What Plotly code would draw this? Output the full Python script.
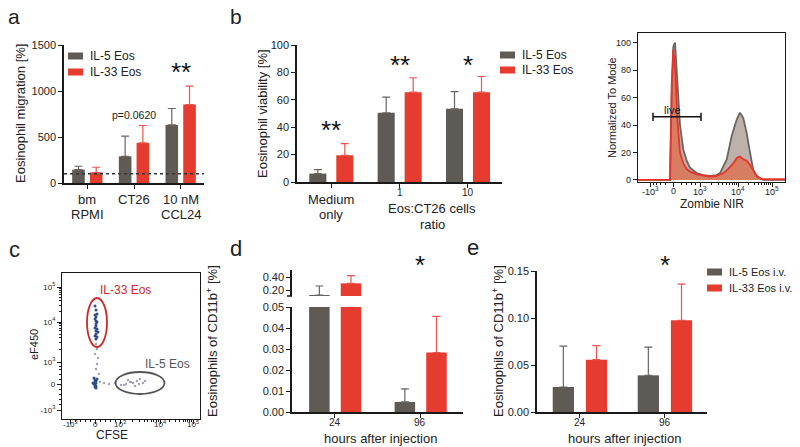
import numpy as np
import plotly.graph_objects as go

W, H = 800, 447
# the page body adds a default 8px margin around the figure; positions below are
# given in screenshot pixels and converted to paper fractions
OFF_X, OFF_Y = 8, 8
def X(p): return (p - OFF_X) / W
def Y(p): return 1 - (p - OFF_Y) / H

GREY = "#5e5a56"
RED = "#e63b2f"
GREY_ERR = "#6a6662"
RED_ERR = "#e8564c"
FONT = "Liberation Sans, Arial, sans-serif"

# ---------------- data ----------------
# panel a
a_cats = ["bm RPMI", "CT26", "10 nM CCL24"]
a_labels = [("bm", "RPMI"), ("CT26", ""), ("10 nM", "CCL24")]
a_il5 = [145, 290, 632]
a_il5_err = [37, 220, 178]
a_il33 = [113, 436, 853]
a_il33_err = [58, 189, 200]
a_baseline = 100

# panel b (viability)
b_cats = ["Medium only", "1", "10"]
b_il5 = [6.1, 50.5, 53.4]
b_il5_err = [3.0, 11.5, 12.6]
b_il33 = [19.5, 65.6, 65.6]
b_il33_err = [8.5, 10.5, 11.4]

# panel b histogram (display units of biexponential axis, % of mode)
hist_grey_x = [-35, -3, -1.3, 0.3, 2, 4.3, 7, 10.3, 13.7, 17, 23.7, 30.3, 37, 43.7, 47,
               53.7, 58.7, 63.7, 67, 70.3, 73.7, 77, 80.3, 83.7, 90.3, 112]
hist_grey_y = [0, 0, 60, 97, 100, 70, 40, 22, 14, 9, 5, 3.5, 3, 3.5, 5,
               15, 32, 44, 49, 45, 34, 20, 7, 2.5, 0, 0]
hist_red_x = [-35, -3, -1.3, 0.3, 2.3, 4.3, 7, 10.3, 13.7, 17, 23.7, 30.3, 37, 43.7,
              50.3, 55.3, 60.3, 63.7, 67, 70.3, 73.7, 77, 80.3, 83.7, 88.7, 112]
hist_red_y = [0, 0, 70, 95, 80, 45, 20, 12, 8, 6, 4, 3, 2.5, 3,
              5, 8, 12, 16, 17, 15, 14, 11, 7, 3, 0.5, 0.5]
hist_tickvals = [-23, 0, 27, 65, 99]
bi_ticktext = ["-10<sup>3</sup>", "0", "10<sup>3</sup>", "10<sup>4</sup>", "10<sup>5</sup>"]

# panel c (flow dot plot, display units)
c_xtickvals = [-25, 0, 25, 65, 98]
c_ytickvals = [-26, 0, 22, 62, 97]
c_blue_x = [0, 1, 2, 1, 0, 2, 1, 1, 0, 2, 1, 3, 1, 0, 2, 1, 1, 0,
            -1, 0, 1, 0, 1, -1, 0, 1, 0, 2, -2, 1]
c_blue_y = [78, 74, 70, 67, 65, 62, 60, 58, 56, 55, 53, 52, 50, 48, 47, 45, 63, 69,
            6, 4, 3, 2, 1, 0, -1, -2, -3, 5, 1, -4]
c_grey_x = [1, 2, 0, 3, 2, 1, 4, 5, 9, 14, 20, 26, 31, 35, 38, 42, 45, 48, 40, 44, 36, 50, 29, 33]
c_grey_y = [40, 35, 30, 26, 20, 15, 10, 2, 1, 0, 1, -1, 0, 2, 1, 3, 5, 1, -2, 0, 2, 3, -1, 4]

# panel d
d_cats = ["24", "96"]
d_il5 = [0.123, 0.0048]
d_il5_err = [0.139, 0.0062]
d_il33 = [0.303, 0.0283]
d_il33_err = [0.117, 0.0172]

# panel e
e_cats = ["24", "96"]
e_il5 = [0.0266, 0.039]
e_il5_err = [0.0434, 0.030]
e_il33 = [0.0557, 0.0975]
e_il33_err = [0.0149, 0.0385]

# ---------------- figure ----------------
fig = go.Figure()

def bar(xa, ya, cats, vals, errs, color, ecolor, name, width, offset):
    return go.Bar(
        x=cats, y=vals, xaxis=xa, yaxis=ya, name=name,
        marker=dict(color=color, line=dict(width=0)),
        width=width, offset=offset,
        error_y=dict(type="data", array=errs, arrayminus=[0] * len(errs), symmetric=False,
                     color=ecolor, thickness=1.2, width=4),
        showlegend=False,
    )

# a
fig.add_trace(bar("x", "y", a_cats, a_il5, a_il5_err, GREY, GREY_ERR, "IL-5 Eos", 0.27, -0.325))
fig.add_trace(bar("x", "y", a_cats, a_il33, a_il33_err, RED, RED_ERR, "IL-33 Eos", 0.27, 0.055))
# b
fig.add_trace(bar("x2", "y2", b_cats, b_il5, b_il5_err, GREY, GREY_ERR, "IL-5 Eos", 0.25, -0.32))
fig.add_trace(bar("x2", "y2", b_cats, b_il33, b_il33_err, RED, RED_ERR, "IL-33 Eos", 0.25, 0.075))
# histogram
fig.add_trace(go.Scatter(x=hist_grey_x, y=hist_grey_y, xaxis="x3", yaxis="y3", mode="lines",
                         line=dict(color="#6b6560", width=1.8), fill="tozeroy",
                         fillcolor="#bcb2ab", showlegend=False))
fig.add_trace(go.Scatter(x=hist_red_x, y=hist_red_y, xaxis="x3", yaxis="y3", mode="lines",
                         line=dict(color="#e8332a", width=1.8), fill="tozeroy",
                         fillcolor="rgba(232,90,50,0.6)", showlegend=False))
# c
fig.add_trace(go.Scatter(x=c_grey_x, y=c_grey_y, xaxis="x4", yaxis="y4", mode="markers",
                         marker=dict(color="#a4a4b4", size=2.5), showlegend=False))
fig.add_trace(go.Scatter(x=c_blue_x, y=c_blue_y, xaxis="x4", yaxis="y4", mode="markers",
                         marker=dict(color="#2c4c8c", size=3), showlegend=False))
# d (lower and upper segments of the broken axis)
for ya in ("y5", "y6"):
    fig.add_trace(bar("x5", ya, d_cats, d_il5, d_il5_err, GREY, GREY_ERR, "IL-5 Eos", 0.24, -0.30))
    fig.add_trace(bar("x5", ya, d_cats, d_il33, d_il33_err, RED, RED_ERR, "IL-33 Eos", 0.24, 0.07))
# e
fig.add_trace(bar("x6", "y7", e_cats, e_il5, e_il5_err, GREY, GREY_ERR, "IL-5 Eos i.v.", 0.25, -0.315))
fig.add_trace(bar("x6", "y7", e_cats, e_il33, e_il33_err, RED, RED_ERR, "IL-33 Eos i.v.", 0.25, 0.075))

def axis(domain, anchor, **kw):
    d = dict(domain=domain, anchor=anchor, showline=True, linecolor="#1a1a1a", linewidth=1.5,
             ticks="outside", ticklen=4, tickwidth=1.2, tickcolor="#1a1a1a", showgrid=False,
             zeroline=False, automargin=False, tickfont=dict(size=11, color="#222", family=FONT))
    d.update(kw)
    return d

def log_minor(start, span):
    return [start + span * np.log10(k) for k in range(2, 10)]

hist_minor = log_minor(27, 38) + log_minor(65, 34) + [-20, -17, -13, -8, 8, 13, 18, 22]
c_x_minor = log_minor(25, 40) + log_minor(65, 33) + [-20, -15, -10, -5, 5, 10, 15, 20]
c_y_minor = log_minor(22, 40) + log_minor(62, 35) + [-20, -15, -10, -5, 5, 10, 15, 18]
minor_style = dict(tickmode="array", ticks="outside", ticklen=2, tickcolor="#1a1a1a")

fig.update_layout(
    width=W, height=H, margin=dict(l=0, r=0, t=0, b=0, pad=0, autoexpand=False),
    paper_bgcolor="white", plot_bgcolor="rgba(0,0,0,0)",
    font=dict(family=FONT, color="#222"),
    barmode="overlay", showlegend=False,
    xaxis=axis([X(64), X(204)], "y", type="category", range=[-0.5, 2.5], showticklabels=False),
    yaxis=axis([Y(183), Y(45)], "x", range=[0, 1500], tickvals=[0, 500, 1000, 1500]),
    xaxis2=axis([X(297), X(502)], "y2", type="category", range=[-0.5, 2.5], showticklabels=False),
    yaxis2=axis([Y(182), Y(45)], "x2", range=[0, 100], tickvals=[0, 20, 40, 60, 80, 100]),
    xaxis3=axis([X(638), X(785)], "y3", range=[-35, 112], mirror=True, tickvals=hist_tickvals,
                showticklabels=False, linewidth=1.2,
                minor=dict(tickvals=hist_minor, **minor_style)),
    yaxis3=axis([Y(182), Y(33)], "x3", range=[-1.5, 107], mirror=True,
                tickvals=[0, 20, 40, 60, 80, 100], linewidth=1.2,
                tickfont=dict(size=9, color="#222", family=FONT)),
    xaxis4=axis([X(62), X(200)], "y4", range=[-33, 105], mirror=True, tickvals=c_xtickvals,
                showticklabels=False, linewidth=1.2,
                minor=dict(tickvals=c_x_minor, **minor_style)),
    yaxis4=axis([Y(419), Y(273)], "x4", range=[-35, 111], mirror=True, tickvals=c_ytickvals,
                ticktext=bi_ticktext, linewidth=1.2, tickfont=dict(size=8, color="#222", family=FONT),
                minor=dict(tickvals=c_y_minor, **minor_style)),
    xaxis5=axis([X(292), X(463)], "y5", type="category", range=[-0.5, 1.5], showticklabels=False),
    yaxis5=axis([Y(412), Y(307)], "x5", range=[0, 0.05], tickvals=[0, 0.01, 0.02, 0.03, 0.04, 0.05],
                tickformat=".2f"),
    yaxis6=axis([Y(296), Y(270)], "x5", range=[0.108, 0.508], tickvals=[0.2, 0.4], tickformat=".2f"),
    xaxis6=axis([X(537), X(707)], "y7", type="category", range=[-0.5, 1.5], showticklabels=False),
    yaxis7=axis([Y(412), Y(271)], "x6", range=[0, 0.15], tickvals=[0, 0.05, 0.10, 0.15], tickformat=".2f"),
)

shapes = []
# dotted baseline in a
shapes.append(dict(type="line", xref="x domain", yref="y", x0=0, x1=1, y0=a_baseline, y1=a_baseline,
                   line=dict(color="#333", width=1.5, dash="dot")))
# live gate
shapes.append(dict(type="line", xref="x3", yref="y3", x0=-20, x1=28, y0=46, y1=46, line=dict(color="#111", width=1.5)))
for gx in (-20, 28):
    shapes.append(dict(type="line", xref="x3", yref="y3", x0=gx, x1=gx, y0=43, y1=49, line=dict(color="#111", width=1.5)))
# gates in c
shapes.append(dict(type="circle", xref="x4", yref="y4", x0=-8, x1=12, y0=37, y1=86,
                   line=dict(color="#d02828", width=1.8)))
shapes.append(dict(type="circle", xref="x4", yref="y4", x0=20.5, x1=69.5, y0=-10, y1=12,
                   line=dict(color="#555", width=1.8)))
# axis break mark in d
shapes.append(dict(type="line", xref="paper", yref="paper", x0=X(287), x1=X(292), y0=Y(296), y1=Y(296),
                   line=dict(color="#1a1a1a", width=1.5)))

# legends (swatch + label)
def legend_items(x0, ys, names, size):
    out_s, out_a = [], []
    for yc, name, col in zip(ys, names, (GREY, RED)):
        out_s.append(dict(type="rect", xref="paper", yref="paper", x0=X(x0), x1=X(x0 + 15),
                          y0=Y(yc + 3.5), y1=Y(yc - 3.5), fillcolor=col, line=dict(width=0)))
        out_a.append(dict(text=name, x=X(x0 + 20), y=Y(yc), xref="paper", yref="paper", showarrow=False,
                          xanchor="left", yanchor="middle", font=dict(size=size, color="#222", family=FONT)))
    return out_s, out_a

anns = []
for x0, ys, names, size in [(68, (56, 72), ("IL-5 Eos", "IL-33 Eos"), 12),
                            (500, (55, 70), ("IL-5 Eos", "IL-33 Eos"), 12),
                            (707, (272, 288), ("IL-5 Eos i.v.", "IL-33 Eos i.v."), 11)]:
    s, a = legend_items(x0, ys, names, size)
    shapes += s
    anns += a
fig.update_layout(shapes=shapes)

def ann(text, x, y, size=12, color="#222", angle=0, **kw):
    d = dict(text=text, x=X(x), y=Y(y), xref="paper", yref="paper", showarrow=False,
             font=dict(size=size, color=color, family=FONT), textangle=angle,
             xanchor="center", yanchor="middle")
    d.update(kw)
    return d

anns += [
    ann("a", 14, 16, 21), ann("b", 236, 16, 21), ann("c", 14, 249, 22),
    ann("d", 236, 248, 22), ann("e", 473, 247, 22),
    ann("Eosinophil migration [%]", 20, 114, 13, angle=-90),
    ann("p=0.0620", 134, 115, 10.5),
    ann("Eosinophil viability [%]", 262, 114, 13, angle=-90),
    ann("Medium", 331, 199, 13), ann("only", 331, 214, 13),
    ann("Eos:CT26 cells", 432, 208, 13), ann("ratio", 432, 224, 13),
    ann("Normalized To Mode", 612, 108, 11, angle=-90),
    ann("Zombie NIR", 712, 204, 12),
    ann("live", 672, 110, 11),
    ann("eF450", 34, 345, 11, angle=-90),
    ann("CFSE", 112, 435, 12),
    ann("IL-33 Eos", 125, 290, 12, color="#d02828"),
    ann("IL-5 Eos", 167, 364, 12, color="#555"),
    ann("Eosinophils of CD11b<sup>+</sup> [%]", 212, 341, 13, angle=-90),
    ann("hours after injection", 380, 438, 13),
    ann("Eosinophils of CD11b<sup>+</sup> [%]", 498, 341, 13, angle=-90),
    ann("hours after injection", 624, 438, 13),
]
# category labels of a (two lines each)
for i, (l1, l2) in enumerate(a_labels):
    anns.append(dict(text=l1, x=i, y=Y(199), xref="x", yref="paper", showarrow=False,
                     font=dict(size=13, color="#222", family=FONT), xanchor="center", yanchor="middle"))
    if l2:
        anns.append(dict(text=l2, x=i, y=Y(214), xref="x", yref="paper", showarrow=False,
                         font=dict(size=13, color="#222", family=FONT), xanchor="center", yanchor="middle"))
# tick labels of b ratio axis
for i in (1, 2):
    anns.append(dict(text=b_cats[i], x=i, y=Y(192), xref="x2", yref="paper", showarrow=False,
                     font=dict(size=10, color="#222", family=FONT), xanchor="center", yanchor="middle"))
# time tick labels of d and e
for xa, cats in (("x5", d_cats), ("x6", e_cats)):
    for i, c in enumerate(cats):
        anns.append(dict(text=c, x=i, y=Y(422), xref=xa, yref="paper", showarrow=False,
                         font=dict(size=10, color="#222", family=FONT), xanchor="center", yanchor="middle"))
# biexponential tick labels
for v, t in zip(hist_tickvals, bi_ticktext):
    anns.append(dict(text=t, x=v, y=Y(191), xref="x3", yref="paper", showarrow=False,
                     font=dict(size=9, color="#222", family=FONT), xanchor="center", yanchor="middle"))
for v, t in zip(c_xtickvals, bi_ticktext):
    anns.append(dict(text=t, x=v, y=Y(424), xref="x4", yref="paper", showarrow=False,
                     font=dict(size=8, color="#222", family=FONT), xanchor="center", yanchor="middle"))

# significance stars
def star(text, xa, x, ypx):
    return dict(text=text, x=x, y=Y(ypx), xref=xa, yref="paper", showarrow=False,
                font=dict(size=26, color="#111", family=FONT), xanchor="center", yanchor="middle")
anns += [
    star("**", "x", 2, 72),
    star("**", "x2", 0, 130),
    star("**", "x2", 1, 65),
    star("*", "x2", 2, 65),
    star("*", "x5", 1, 265),
    star("*", "x6", 1, 265),
]
fig.update_layout(annotations=anns)

fig.write_html("out.html")
